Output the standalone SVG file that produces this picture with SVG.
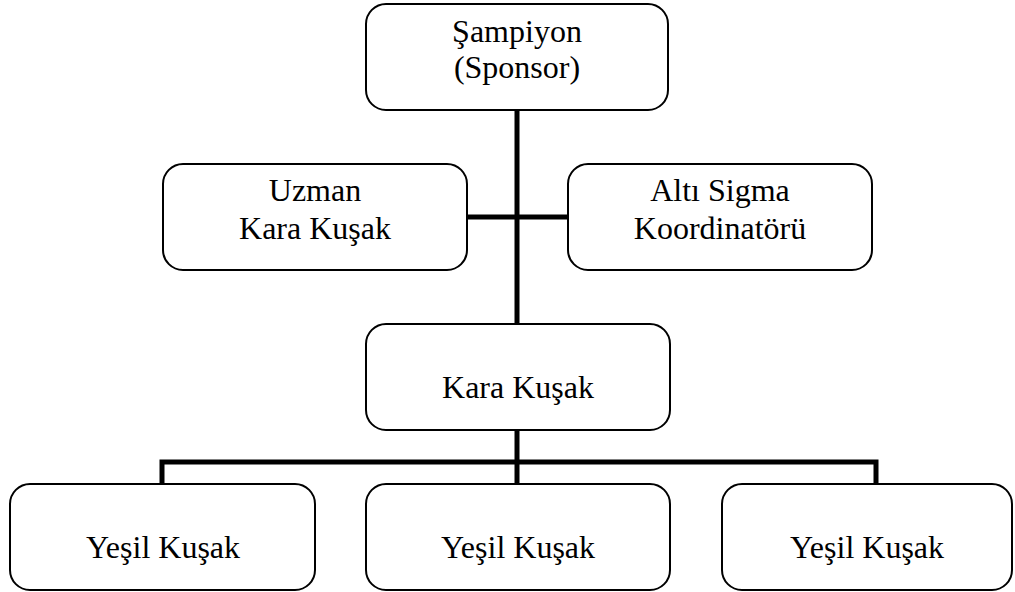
<svg xmlns="http://www.w3.org/2000/svg" width="1015" height="592" viewBox="0 0 1015 592">
  <style>
    .box { fill: #ffffff; stroke: #000000; stroke-width: 2; }
    .lbl { font-family: "Liberation Serif", "Times New Roman", serif; font-size: 32px; fill: #000000; text-anchor: middle; }
    .conn { fill: none; stroke: #000000; stroke-width: 5; }
  </style>
  <rect width="1015" height="592" fill="#ffffff"/>

  <!-- connectors -->
  <g id="connectors">
    <path class="conn" d="M517 110 V324"/>
    <path class="conn" d="M467 217 H568"/>
    <path class="conn" d="M517 430 V462"/>
    <path class="conn" d="M162 483 V462 H876 V483"/>
    <path class="conn" d="M517 462 V483"/>
  </g>

  <g id="sampiyon">
    <rect class="box" x="366" y="4" width="302" height="106" rx="20"/>
    <text class="lbl" x="517" y="42">Şampiyon</text>
    <text class="lbl" x="517" y="78">(Sponsor)</text>
  </g>

  <g id="uzman-kara-kusak">
    <rect class="box" x="163" y="164" width="304" height="106" rx="20"/>
    <text class="lbl" x="315" y="201">Uzman</text>
    <text class="lbl" x="315" y="239">Kara Kuşak</text>
  </g>

  <g id="alti-sigma-koordinatoru">
    <rect class="box" x="568" y="164" width="304" height="106" rx="20"/>
    <text class="lbl" x="720" y="201">Altı Sigma</text>
    <text class="lbl" x="720" y="239">Koordinatörü</text>
  </g>

  <g id="kara-kusak">
    <rect class="box" x="366" y="324" width="304" height="106" rx="20"/>
    <text class="lbl" x="518" y="398">Kara Kuşak</text>
  </g>

  <g id="yesil-kusak-1">
    <rect class="box" x="10" y="484" width="305" height="106" rx="20"/>
    <text class="lbl" x="163" y="558">Yeşil Kuşak</text>
  </g>

  <g id="yesil-kusak-2">
    <rect class="box" x="366" y="484" width="304" height="106" rx="20"/>
    <text class="lbl" x="518" y="558">Yeşil Kuşak</text>
  </g>

  <g id="yesil-kusak-3">
    <rect class="box" x="722" y="484" width="290" height="106" rx="20"/>
    <text class="lbl" x="867" y="558">Yeşil Kuşak</text>
  </g>
</svg>
